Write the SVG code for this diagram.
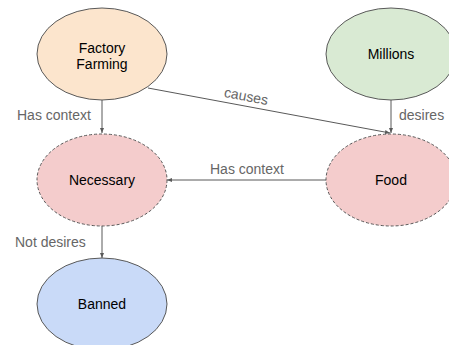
<svg xmlns="http://www.w3.org/2000/svg" width="449" height="345" viewBox="0 0 449 345">
<style>
.node{stroke:#595959;stroke-width:1}
.dash{stroke-dasharray:3,2}
.nt{font-family:"Liberation Sans",Arial,sans-serif;font-size:14px;fill:#000;text-anchor:middle}
.el{font-family:"Liberation Sans",Arial,sans-serif;font-size:14px;fill:#666}
.edge{stroke:#595959;stroke-width:1;fill:none;marker-end:url(#arr)}
</style>
<defs>
<marker id="arr" viewBox="0 0 10 10" refX="10" refY="5" markerWidth="5" markerHeight="5" orient="auto" markerUnits="userSpaceOnUse">
<path d="M0,1 L10,5 L0,9 z" fill="#595959"/>
</marker>
</defs>
<rect width="449" height="345" fill="#fff"/>
<g id="connectors">
<line class="edge" x1="102" y1="100" x2="102" y2="133"/>
<line class="edge" x1="391" y1="100" x2="391" y2="133"/>
<line class="edge" x1="148" y1="88" x2="390" y2="133"/>
<line class="edge" x1="326" y1="180" x2="167" y2="180"/>
<line class="edge" x1="102" y1="226" x2="102" y2="258"/>
<text class="el" x="17" y="120">Has context</text>
<text class="el" x="15" y="247">Not desires</text>
<text class="el" x="399" y="120">desires</text>
<text class="el" x="210" y="174">Has context</text>
<text class="el" x="246" y="101" text-anchor="middle" transform="rotate(10.7 246 97)">causes</text>
</g>
<g id="factory-farming">
<ellipse class="node" cx="102" cy="54" rx="65" ry="46" fill="#fce5cd"/>
<text class="nt" x="102" y="53">Factory</text>
<text class="nt" x="102" y="69">Farming</text>
</g>
<g id="millions">
<ellipse class="node" cx="391" cy="54" rx="65" ry="46" fill="#d9ead3"/>
<text class="nt" x="391" y="59">Millions</text>
</g>
<g id="necessary">
<ellipse class="node dash" cx="102" cy="180" rx="65" ry="46" fill="#f4cccc"/>
<text class="nt" x="102" y="185">Necessary</text>
</g>
<g id="food">
<ellipse class="node dash" cx="391" cy="180" rx="65" ry="46" fill="#f4cccc"/>
<text class="nt" x="391" y="185">Food</text>
</g>
<g id="banned">
<ellipse class="node" cx="102" cy="304" rx="65" ry="46" fill="#c9daf8"/>
<text class="nt" x="102" y="309">Banned</text>
</g>
</svg>
